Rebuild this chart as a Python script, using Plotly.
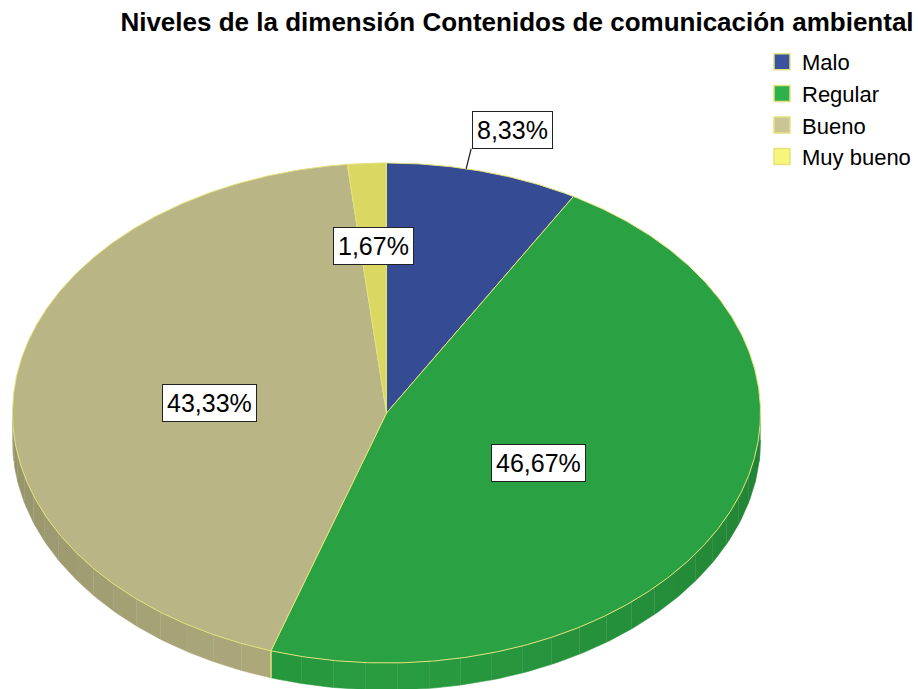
import numpy as np
import plotly.graph_objects as go

# data
categories = ["Malo", "Regular", "Bueno", "Muy bueno"]
percentages = [8.33, 46.67, 43.33, 1.67]

# styles
top_colors = ["#354B94", "#2AA142", "#B9B584", "#DAD862"]
legend_colors = ["#3A52A0", "#2EB14C", "#C9C597", "#F8F67A"]
edge_color = "#E4E27C"
FONT = "Liberation Sans, Arial, sans-serif"

# pie geometry (pixel coords, y down)
CX, CY = 386.5, 413
RX, RY = 374, 250
DEPTH = 27
# label placement: (angle offset from slice middle, radius fraction)
LABEL_POS = [(-2.7, 1.0), (2.3, 0.452), (-1.2, 0.476), (0.0, 0.669)]


def pt(t, r=1.0, dy=0.0):
    t = np.radians(t)
    return CX + RX * r * np.sin(t), CY - RY * r * np.cos(t) + dy


def shade(hexcol, f):
    h = hexcol.lstrip("#")
    rgb = [int(h[i:i + 2], 16) for i in (0, 2, 4)]
    return "rgb(%d,%d,%d)" % tuple(int(c * f) for c in rgb)


fig = go.Figure()

# slice angles, clockwise from 12 o'clock
ends = np.cumsum(percentages) / sum(percentages) * 360
starts = np.concatenate([[0], ends[:-1]])

# side (thickness) of the visible front half
for i in range(len(categories)):
    a0, a1 = max(starts[i], 90), min(ends[i], 270)
    if a1 <= a0:
        continue
    steps = np.linspace(a0, a1, int((a1 - a0) / 5) + 2)
    for s0, s1 in zip(steps[:-1], steps[1:]):
        tt = np.linspace(s0, s1, 6)
        xt, yt = pt(tt)
        xb, yb = pt(tt[::-1], dy=DEPTH)
        f = 0.97 - 0.17 * abs((s0 + s1) / 2 - 180) / 90
        col = shade(top_colors[i], f)
        fig.add_trace(go.Scatter(
            x=np.concatenate([xt, xb]), y=np.concatenate([yt, yb]),
            fill="toself", fillcolor=col, mode="lines",
            line=dict(color=col, width=0.6),
            hoverinfo="skip", showlegend=False))
    # boundary edge line on the side
    for a in (a0, a1):
        if a in (90, 270):
            continue
        x0, y0 = pt(a)
        fig.add_trace(go.Scatter(
            x=[x0, x0], y=[y0, y0 + DEPTH], mode="lines",
            line=dict(color=edge_color, width=1.2),
            hoverinfo="skip", showlegend=False))

# top faces
for i in range(len(categories)):
    tt = np.linspace(starts[i], ends[i], max(8, int(ends[i] - starts[i]) * 2))
    xs, ys = pt(tt)
    fig.add_trace(go.Scatter(
        x=np.concatenate([[CX], xs, [CX]]), y=np.concatenate([[CY], ys, [CY]]),
        fill="toself", fillcolor=top_colors[i], mode="lines",
        line=dict(color=edge_color, width=1),
        hoverinfo="skip", showlegend=False))

# legend entries
for i, cat in enumerate(categories):
    fig.add_trace(go.Scatter(
        x=[None], y=[None], mode="markers", name=cat, legendgroup=cat,
        marker=dict(symbol="square", size=16, color=legend_colors[i],
                    line=dict(color=edge_color, width=1.5))))

# percentage labels
for i, p in enumerate(percentages):
    text = ("%.2f" % p).replace(".", ",") + "%"
    mid = (starts[i] + ends[i]) / 2
    dt, r = LABEL_POS[i]
    common = dict(text=text, font=dict(family=FONT, size=25, color="black"),
                  bgcolor="white", bordercolor="#222", borderwidth=1, borderpad=4,
                  showarrow=False)
    x, y = pt(mid + dt, r=r)
    if r >= 1.0:
        # outside label with a short leader line
        fig.add_shape(type="line", x0=x, y0=y, x1=x + 5, y1=y - 20,
                      line=dict(color="#222", width=1.2))
        fig.add_annotation(x=x + 46, y=y - 39, **common)
    else:
        fig.add_annotation(x=x, y=y, **common)

fig.update_layout(
    width=918, height=689,
    margin=dict(l=0, r=0, t=0, b=0),
    paper_bgcolor="white", plot_bgcolor="white",
    title=dict(text="<b>Niveles de la dimensión Contenidos de comunicación ambiental</b>",
               font=dict(family=FONT, size=26, color="black"),
               x=517 / 918, xanchor="center", y=1 - 22 / 689, yanchor="middle"),
    xaxis=dict(range=[0, 918], visible=False, fixedrange=True),
    yaxis=dict(range=[689, 0], visible=False, fixedrange=True),
    legend=dict(x=762 / 918, y=1 - 41 / 689, xanchor="left", yanchor="top",
                font=dict(family=FONT, size=22, color="black"),
                tracegroupgap=0, itemsizing="trace", bgcolor="rgba(0,0,0,0)"),
    showlegend=True,
)

fig.write_html("out.html", config={"displayModeBar": False},
               post_script="document.body.style.margin='0';document.body.style.overflow='hidden';")
